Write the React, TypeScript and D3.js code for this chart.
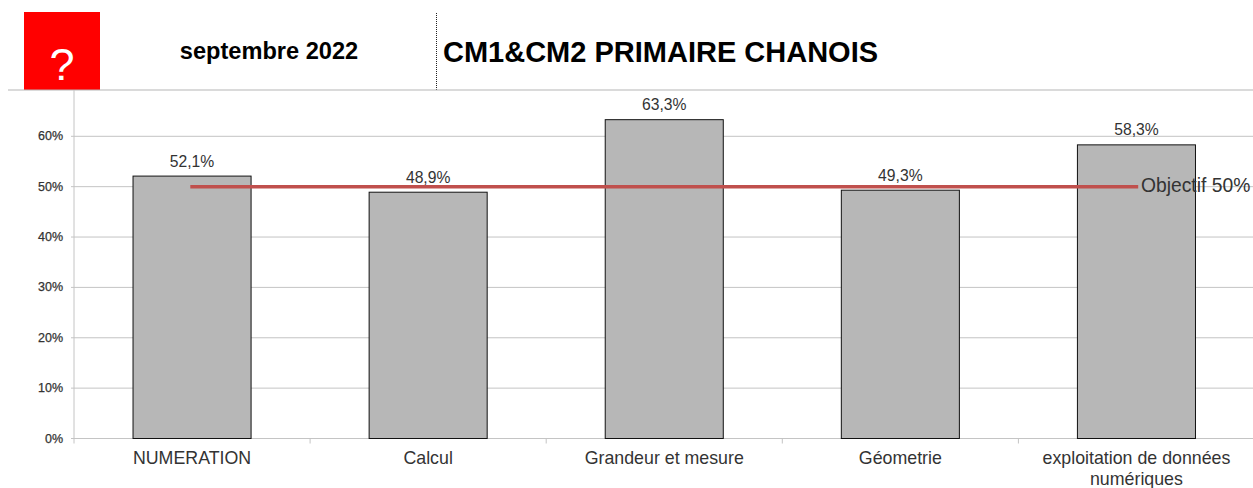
import React from "react";
import * as d3 from "d3";

const categories = ["NUMERATION", "Calcul", "Grandeur et mesure", "Géometrie", "exploitation de données|numériques"];
const scores = [52.1, 48.9, 63.3, 49.3, 58.3];
const scoreLabels = ["52,1%", "48,9%", "63,3%", "49,3%", "58,3%"];
const objective = [50, 50, 50, 50, 50];
const objectiveLabel = "Objectif 50%";
const yTicks = [0, 10, 20, 30, 40, 50, 60];
const dateLabel = "septembre 2022";
const titleLabel = "CM1&CM2 PRIMAIRE CHANOIS";

const W = 1253, H = 488;
const FONT = "'Liberation Sans', Arial, sans-serif";
const plot = { left: 74, right: 1254.5, bottom: 438.5, top: 90 };

export default function App() {
  const x = d3.scaleBand<number>().domain(d3.range(categories.length)).range([plot.left, plot.right]).paddingInner(0.5).paddingOuter(0.25);
  const y = d3.scaleLinear().domain([0, 60]).range([plot.bottom, 136.3]);
  const step = x.step();
  const bw = x.bandwidth();
  const cx = (i: number) => x(i)! + bw / 2;
  const line = d3.line<number>().x((_, i) => cx(i)).y((d) => y(d));
  const boundaries = d3.range(categories.length + 1).map((i) => plot.left + i * step);

  return (
    <svg width={W} height={H} viewBox={`0 0 ${W} ${H}`} style={{ position: "absolute", left: 0, top: 0, background: "#fff" }} fontFamily={FONT}>
      {/* header */}
      <rect x={24} y={12} width={76} height={78} fill="#ff0000" />
      <text x={62} y={80} textAnchor="middle" fontSize={45} fill="#fff">?</text>
      <text x={269} y={59} textAnchor="middle" fontSize={23.6} fontWeight="bold" fill="#000">{dateLabel}</text>
      <text x={443} y={62} fontSize={29} fontWeight="bold" fill="#000">{titleLabel}</text>
      <line x1={436.5} x2={436.5} y1={13} y2={90} stroke="#222" strokeWidth={1} strokeDasharray="1 1" />
      <line x1={8} x2={W} y1={90} y2={90} stroke="#b5b5b5" strokeWidth={1.2} />

      {/* grid */}
      {yTicks.map((t) => (
        <g key={t}>
          <line x1={plot.left - 3} x2={W} y1={y(t)} y2={y(t)} stroke="#c4c4c4" strokeWidth={1} />
          <text x={63} y={y(t) + 4} textAnchor="end" fontSize={12.5} fill="#333" stroke="#333" strokeWidth={0.25}>{t}%</text>
        </g>
      ))}
      <line x1={plot.left} x2={plot.left} y1={plot.top} y2={plot.bottom + 5} stroke="#c4c4c4" strokeWidth={1} />
      {boundaries.slice(1).map((b, i) => (
        <line key={i} x1={b} x2={b} y1={plot.bottom} y2={plot.bottom + 5} stroke="#c4c4c4" strokeWidth={1} />
      ))}

      {/* bars */}
      {scores.map((v, i) => (
        <rect key={i} x={x(i)!} y={y(v)} width={bw} height={plot.bottom - y(v)} fill="#b7b7b7" stroke="#111" strokeWidth={1} />
      ))}

      {/* objective */}
      <path d={line(objective)!} fill="none" stroke="#c0504d" strokeWidth={3.5} strokeLinecap="square" />

      {/* labels */}
      {scores.map((v, i) => (
        <text key={i} x={cx(i)} y={y(v) - 9.5} textAnchor="middle" fontSize={15.7} fill="#333">{scoreLabels[i]}</text>
      ))}
      <text x={1141} y={192} fontSize={19.3} fill="#333">{objectiveLabel}</text>
      {categories.map((c, i) => (
        <text key={i} textAnchor="middle" fontSize={17.8} fill="#333">
          {c.split("|").map((p, j) => (
            <tspan key={j} x={cx(i)} y={464 + j * 21}>{p}</tspan>
          ))}
        </text>
      ))}
    </svg>
  );
}
